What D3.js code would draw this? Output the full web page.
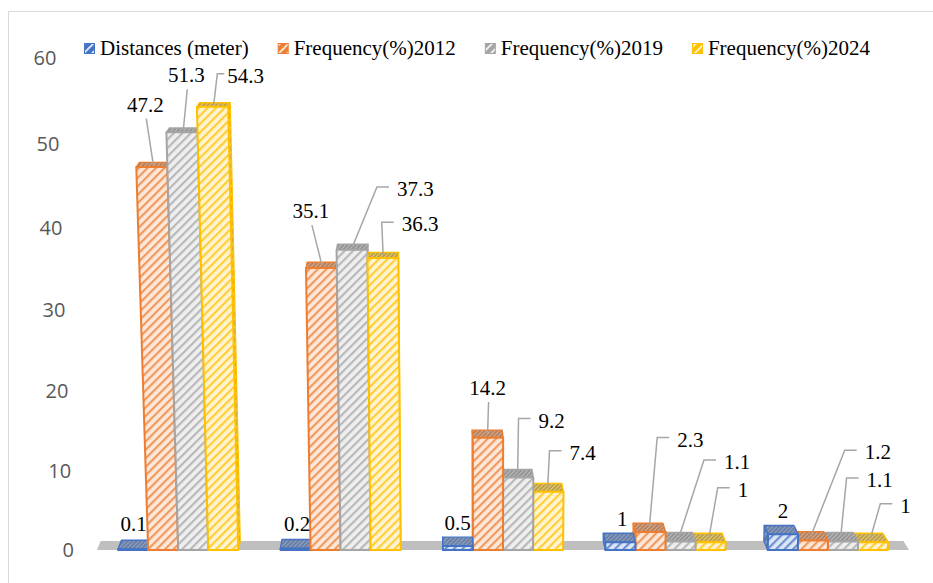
<!DOCTYPE html>
<html>
<head>
<meta charset="utf-8">
<script src="https://cdn.jsdelivr.net/npm/d3@7"></script>
<style>
  html, body { margin: 0; padding: 0; background: #ffffff; }
  svg { display: block; }
  .serif { font-family: "Liberation Serif", "Tinos", "Times New Roman", "DejaVu Serif", "Noto Serif", serif; }
</style>
</head>
<body>
<svg id="chart" width="933" height="583"></svg>
<script>
// ---- data ----
const categories = ["1", "2", "3", "4", "5"];
const seriesNames = ["Distances (meter)", "Frequency(%)2012", "Frequency(%)2019", "Frequency(%)2024"];
const distances = [0.1, 0.2, 0.5, 1, 2];
const freq2012 = [47.2, 35.1, 14.2, 2.3, 1.2];
const freq2019 = [51.3, 37.3, 9.2, 1.1, 1.1];
const freq2024 = [54.3, 36.3, 7.4, 1, 1];
const yTicks = [0, 10, 20, 30, 40, 50, 60];

const seriesValues = [distances, freq2012, freq2019, freq2024];
const colors = ["#4472C4", "#ED7D31", "#A5A5A5", "#FFC000"];

// data-label placement relative to each bar's top face: [dx, dy, leader kind, elbow gap, end gap]
const labelLayout = [
  [[-1, -21, "none"], [1, -20, "none"], [0, -19, "none"], [3, -19, "none"], [2, -19, "none"]],
  [[-8, -60, "below"], [-11, -54, "below"], [0, -46, "below"], [41, -88, "left"], [67, -84, "left"]],
  [[3, -55, "below"], [63, -58, "left"], [34, -53, "left"], [58, -75, "left"], [39, -57, "left"]],
  [[32, -29, "left", 10, 3], [37, -31, "left"], [35, -35, "left"], [34, -48, "left"], [35, -32, "left"]]
];

// ---- layout ----
const svg = d3.select("#chart");
const floorY = 550, topY = 58;
// value axis with a slight perspective foreshortening toward the floor
const yNorm = d3.scaleLinear().domain([0, 60]).range([0, 1]);
const persp = -0.0476;
const y = v => {
  const t = yNorm(v);
  return floorY - (floorY - topY) * t * (1 + persp) / (1 + persp * t);
};
const x0 = d3.scaleBand().domain(categories).range([97, 909]).paddingInner(0.26).paddingOuter(0.13);
const x1 = d3.scaleBand().domain(d3.range(seriesNames.length)).range([0, x0.bandwidth()]).padding(0);

// perspective: verticals lean toward a point far below, depth recedes toward a point above
const VVX = 488, VVY = 11500;             // vertical vanishing point
const DVX = 415, DVY = -253, DK = 0.0112; // depth vanishing point and depth factor
function proj(xb, v, z) {
  const py = y(v);
  const px = xb - (VVX - xb) * (floorY - py) / (VVY - floorY);
  return [px + DK * z * (DVX - px), py + DK * z * (DVY - py)];
}

// chart frame
svg.append("rect").attr("x", 8.5).attr("y", 11.5).attr("width", 1000).attr("height", 1000)
  .attr("fill", "none").attr("stroke", "#D9D9D9").attr("stroke-width", 1);

// ---- patterns ----
const defs = svg.append("defs");
const mix = (a, b, t) => d3.interpolateRgb(a, b)(t);
function stripePattern(id, bg, fg, size, lineW) {
  const p = defs.append("pattern").attr("id", id).attr("patternUnits", "userSpaceOnUse")
    .attr("width", size).attr("height", size).attr("patternTransform", "rotate(45)");
  p.append("rect").attr("width", size).attr("height", size).attr("fill", bg);
  p.append("rect").attr("width", lineW).attr("height", size).attr("fill", fg);
}
colors.forEach((c, i) => {
  stripePattern("front" + i, mix(c, "#ffffff", 0.82), mix(c, "#ffffff", 0.22), 6, 2.2);
  stripePattern("side" + i, mix(c, "#7f7f7f", 0.45), mix(c, "#ffffff", 0.3), 6, 2.2);
  stripePattern("top" + i, mix(c, "#7f7f7f", 0.6), mix(c, "#d0d0d0", 0.5), 3, 1.3);
  stripePattern("leg" + i, c, "#ffffff", 6, 1.6);
});

// ---- floor ----
const [fx0, fx1] = x0.range();
const fb0 = [fx0 + DK * (DVX - fx0), floorY + DK * (DVY - floorY)];
const fb1 = [fx1 + DK * (DVX - fx1), floorY + DK * (DVY - floorY)];
svg.append("polygon")
  .attr("points", [[fx0, floorY], [fx1, floorY], fb1, fb0].map(p => p.join(",")).join(" "))
  .attr("fill", "#BFBFBF");

// ---- bars ----
const bars = [];
seriesValues.forEach((vals, s) => {
  vals.forEach((v, c) => {
    const xb = x0(categories[c]) + x1(s);
    const w = x1.bandwidth();
    bars.push({ s, c, v, xb, w, mid: xb + w / 2 });
  });
});
// far-from-center bars first, so nearer bars cover their side faces
bars.sort((a, b) => Math.abs(b.mid - DVX) - Math.abs(a.mid - DVX));

const barLayer = svg.append("g");
const pts = arr => arr.map(p => p[0].toFixed(2) + "," + p[1].toFixed(2)).join(" ");
bars.forEach(b => {
  const FBL = proj(b.xb, 0, 0), FBR = proj(b.xb + b.w, 0, 0);
  const FTL = proj(b.xb, b.v, 0), FTR = proj(b.xb + b.w, b.v, 0);
  const BBL = proj(b.xb, 0, 1), BBR = proj(b.xb + b.w, 0, 1);
  const BTL = proj(b.xb, b.v, 1), BTR = proj(b.xb + b.w, b.v, 1);
  const col = colors[b.s];
  const g = barLayer.append("g");
  const side = (BTR[0] > FTR[0]) ? [FTR, BTR, BBR, FBR] : [FTL, BTL, BBL, FBL];
  g.append("polygon").attr("points", pts(side))
    .attr("fill", `url(#side${b.s})`).attr("stroke", col).attr("stroke-width", 1.2).attr("stroke-linejoin", "round");
  g.append("polygon").attr("points", pts([FTL, FTR, BTR, BTL]))
    .attr("fill", `url(#top${b.s})`).attr("stroke", col).attr("stroke-width", 1.4).attr("stroke-linejoin", "round");
  g.append("polygon").attr("points", pts([FTL, FTR, FBR, FBL]))
    .attr("fill", `url(#front${b.s})`).attr("stroke", col).attr("stroke-width", 2).attr("stroke-linejoin", "round");
  b.topCenter = proj(b.xb + b.w / 2, b.v, 0.5);
});

// ---- value axis labels ----
const axisG = svg.append("g");
yTicks.forEach(t => {
  const p = proj(fx0, t, 0);
  axisG.append("text")
    .attr("x", p[0] - 23).attr("y", p[1]).attr("dy", "0.36em")
    .attr("text-anchor", "end")
    .attr("font-family", "'Open Sans', sans-serif").attr("font-size", 20)
    .attr("fill", "#595959")
    .text(t);
});

// ---- data labels with leader lines ----
const labelG = svg.append("g");
bars.forEach(b => {
  const [dx, dy, kind, gapA = 20, gapB = 8] = labelLayout[b.s][b.c];
  const cx = b.topCenter[0] + dx, cy = b.topCenter[1] + dy;
  const t = labelG.append("text")
    .attr("class", "serif")
    .attr("x", cx).attr("y", cy + 7)
    .attr("text-anchor", "middle")
    .attr("font-size", 21)
    .attr("fill", "#000000")
    .text(b.v);
  const half = t.node().getComputedTextLength() / 2;
  let path = null;
  if (kind === "below") {
    path = [b.topCenter, [cx + 1, cy + 14]];
  } else if (kind === "left") {
    const ey = cy - 2;
    path = [b.topCenter, [cx - half - gapA, ey], [cx - half - gapB, ey]];
  }
  if (path) {
    labelG.insert("path", "text")
      .attr("d", d3.line()(path))
      .attr("fill", "none").attr("stroke", "#A6A6A6").attr("stroke-width", 1.5);
  }
});

// ---- legend ----
const legend = svg.append("g");
let lx = 84;
seriesNames.forEach((name, i) => {
  legend.append("rect").attr("x", lx + 0.5).attr("y", 43.5).attr("width", 10).attr("height", 10)
    .attr("fill", `url(#leg${i})`).attr("stroke", colors[i]).attr("stroke-width", 1);
  const t = legend.append("text").attr("class", "serif").attr("x", lx + 16).attr("y", 55)
    .attr("font-size", 21)
    .attr("fill", "#000000").text(name);
  lx += 16 + t.node().getComputedTextLength() + 29;
});
</script>
</body>
</html>
